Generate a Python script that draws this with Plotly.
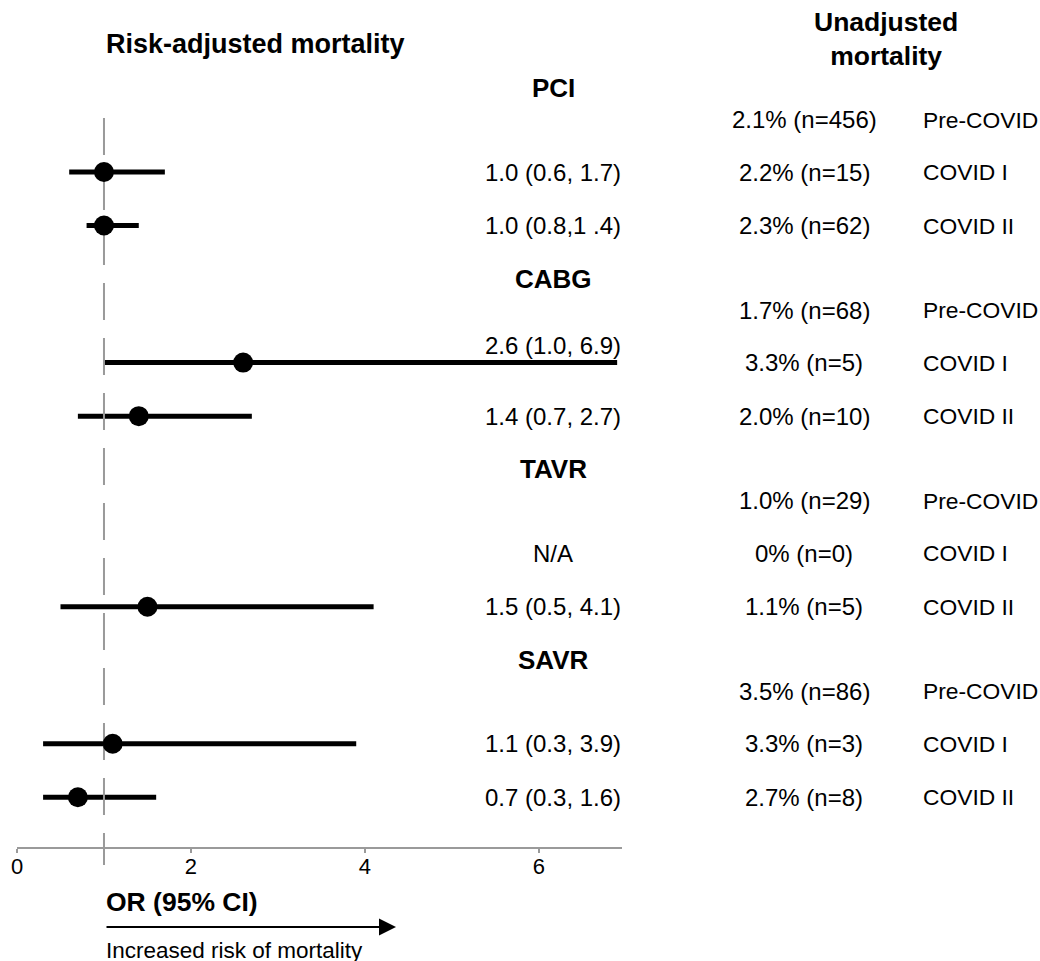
import plotly.graph_objects as go

# ---------------- data ----------------
groups = ["PCI", "CABG", "TAVR", "SAVR"]
periods = ["Pre-COVID", "COVID I", "COVID II"]
or_est = [[None, 1.0, 1.0], [None, 2.6, 1.4], [None, None, 1.5], [None, 1.1, 0.7]]
ci_low = [[None, 0.6, 0.8], [None, 1.0, 0.7], [None, None, 0.5], [None, 0.3, 0.3]]
ci_high = [[None, 1.7, 1.4], [None, 6.9, 2.7], [None, None, 4.1], [None, 3.9, 1.6]]
or_text = [["", "1.0 (0.6, 1.7)", "1.0 (0.8,1 .4)"],
           ["", "2.6 (1.0, 6.9)", "1.4 (0.7, 2.7)"],
           ["", "N/A", "1.5 (0.5, 4.1)"],
           ["", "1.1 (0.3, 3.9)", "0.7 (0.3, 1.6)"]]
unadj_text = [["2.1% (n=456)", "2.2% (n=15)", "2.3% (n=62)"],
              ["1.7% (n=68)", "3.3% (n=5)", "2.0% (n=10)"],
              ["1.0% (n=29)", "0% (n=0)", "1.1% (n=5)"],
              ["3.5% (n=86)", "3.3% (n=3)", "2.7% (n=8)"]]
tick_vals = [0, 2, 4, 6]
tick_text = ["0", "2", "4", "6"]
ref_or = 1.0

# ---------------- layout helpers ----------------
OFF = 0                      # page body margin is removed below
W, H = 1040 - OFF, 961 - OFF
ML = 17 - OFF
AXIS_Y = 847                 # page y of the x axis line
PW, PH = W - ML, AXIS_Y - OFF
MB = H - PH
UNIT, Y0 = 52.5, 88.0
GROUP_PITCH = 3.63
ROW_OFF = [0.6, 1.6, 2.62]
FONT = "Liberation Sans, Arial, Helvetica, sans-serif"
TXT = 24
PER = 22.8
BOLD = 26


def yv(py):
    return (py - Y0) / UNIT


def px_x(px):
    return (px - OFF - ML) / PW


def px_y(py):
    return (AXIS_Y - py) / PH


y_top, y_bot = yv(OFF), yv(AXIS_Y)

fig = go.Figure()

lx, ly = [], []
mx, my = [], []
for g in range(len(groups)):
    for k in range(len(periods)):
        if or_est[g][k] is None:
            continue
        y = g * GROUP_PITCH + ROW_OFF[k]
        lx += [ci_low[g][k], ci_high[g][k], None]
        ly += [y, y, None]
        mx.append(or_est[g][k])
        my.append(y)

fig.add_trace(go.Scatter(x=lx, y=ly, mode="lines",
                         line=dict(color="black", width=5),
                         hoverinfo="skip", showlegend=False))
fig.add_trace(go.Scatter(x=[ref_or, ref_or], y=[yv(118), y_bot], mode="lines",
                         line=dict(color="#9a9a9a", width=2, dash="37px,18px"),
                         hoverinfo="skip", showlegend=False))
fig.add_trace(go.Scatter(x=mx, y=my, mode="markers",
                         marker=dict(color="black", size=20, line=dict(width=0)),
                         showlegend=False))

# reference line continues a little below the axis
fig.add_shape(type="line", xref="x", yref="paper", x0=ref_or, x1=ref_or,
              y0=px_y(AXIS_Y), y1=px_y(865), line=dict(color="#9a9a9a", width=2))

ann = []
for g, name in enumerate(groups):
    hy = g * GROUP_PITCH
    ann.append(dict(x=px_x(553), y=hy, xref="paper", yref="y",
                    text="<b>%s</b>" % name, showarrow=False,
                    xanchor="center", yanchor="middle",
                    font=dict(size=BOLD, color="black", family=FONT)))
    for k, per in enumerate(periods):
        y = hy + ROW_OFF[k]
        t = or_text[g][k]
        if t:
            if t == "N/A":
                ann.append(dict(x=px_x(553), y=y, xref="paper", yref="y", text=t,
                                showarrow=False, xanchor="center", yanchor="middle",
                                font=dict(size=TXT, color="black", family=FONT)))
            else:
                shift = 17 if (ci_high[g][k] is not None and ci_high[g][k] > 6) else 0
                ann.append(dict(x=px_x(623), y=y, xref="paper", yref="y", text=t,
                                showarrow=False, xanchor="right", yanchor="middle",
                                yshift=shift,
                                font=dict(size=TXT, color="black", family=FONT)))
        ann.append(dict(x=px_x(804), y=y, xref="paper", yref="y", text=unadj_text[g][k],
                        showarrow=False, xanchor="center", yanchor="middle",
                        font=dict(size=TXT, color="black", family=FONT)))
        ann.append(dict(x=px_x(921), y=y, xref="paper", yref="y", text=per,
                        showarrow=False, xanchor="left", yanchor="middle",
                        font=dict(size=PER, color="black", family=FONT)))

ann.append(dict(x=px_x(255), y=px_y(44), xref="paper", yref="paper",
                text="<b>Risk-adjusted mortality</b>", showarrow=False,
                xanchor="center", yanchor="middle",
                font=dict(size=27, color="black", family=FONT)))
ann.append(dict(x=px_x(886), y=px_y(39), xref="paper", yref="paper",
                text="<b>Unadjusted</b><br><b>mortality</b>", showarrow=False,
                xanchor="center", yanchor="middle",
                font=dict(size=26.5, color="black", family=FONT)))
ann.append(dict(x=px_x(104), y=px_y(902), xref="paper", yref="paper",
                text="<b>OR (95% CI)</b>", showarrow=False,
                xanchor="left", yanchor="middle",
                font=dict(size=26.5, color="black", family=FONT)))
ann.append(dict(x=px_x(104), y=px_y(950), xref="paper", yref="paper",
                text="Increased risk of mortality", showarrow=False,
                xanchor="left", yanchor="middle",
                font=dict(size=22.5, color="black", family=FONT)))
ann.append(dict(x=px_x(396), y=px_y(927), xref="paper", yref="paper",
                ax=-(396 - 105), ay=0, axref="pixel", ayref="pixel",
                text="", showarrow=True, arrowhead=2, arrowsize=1.7,
                arrowwidth=2, arrowcolor="black", standoff=0, startstandoff=0))

fig.update_layout(
    width=W, height=H,
    margin=dict(l=ML, r=0, t=0, b=MB, autoexpand=False),
    paper_bgcolor="white", plot_bgcolor="white",
    showlegend=False,
    annotations=ann,
    font=dict(family=FONT, color="black"),
    xaxis=dict(range=[0, 6.95], domain=[0, px_x(621.5)],
               showline=True, linecolor="#9a9a9a", linewidth=2,
               ticks="outside", tickcolor="#9a9a9a", tickwidth=2, ticklen=4,
               tickvals=tick_vals, ticktext=tick_text,
               tickfont=dict(size=22, color="black", family=FONT),
               ticklabelstandoff=-5,
               showgrid=False, zeroline=False, fixedrange=True),
    yaxis=dict(range=[y_bot, y_top], visible=False, showgrid=False,
               zeroline=False, fixedrange=True),
)

fig.write_html("out.html",
               config={"displayModeBar": False, "staticPlot": True},
               post_script="document.body.style.margin='0';"
                           "document.body.style.overflow='hidden';")
